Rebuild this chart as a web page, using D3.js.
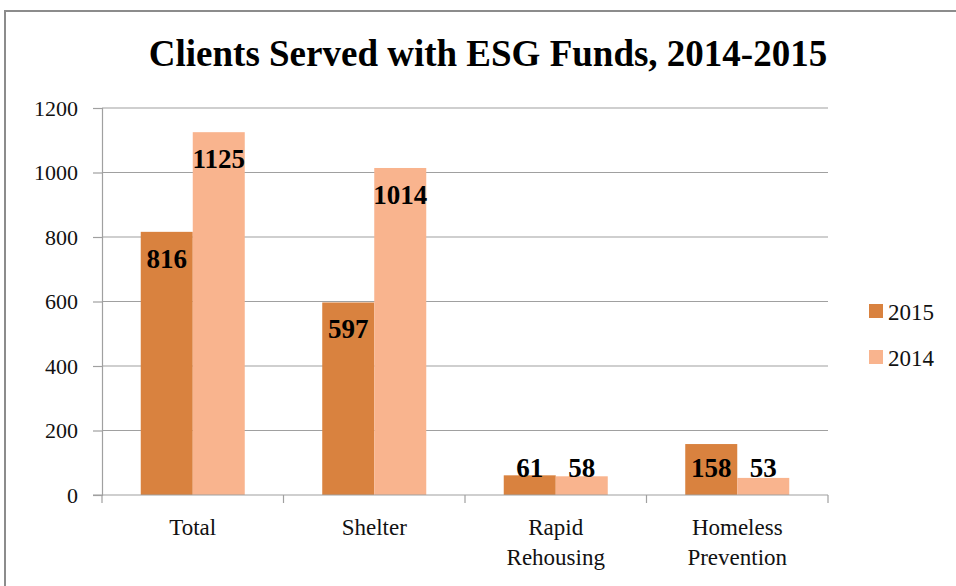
<html>
<head>
<script src="https://d3js.org/d3.v7.min.js"></script>
<style>
  body { margin: 0; background: white; }
  text { font-family: "Liberation Serif", "Times New Roman", serif; }
</style>
</head>
<body>
<svg width="956" height="586"></svg>
<script>
// data
var categories = [["Total"], ["Shelter"], ["Rapid", "Rehousing"], ["Homeless", "Prevention"]];
var series = ["2015", "2014"];
var values2015 = [816, 597, 61, 158];
var values2014 = [1125, 1014, 58, 53];
var yTicks = [0, 200, 400, 600, 800, 1000, 1200];
var colors = ["#D9823F", "#F9B48E"];

var svg = d3.select("svg");

// outer frame
svg.append("rect")
  .attr("x", 5).attr("y", 11)
  .attr("width", 1000).attr("height", 1000)
  .attr("fill", "none")
  .attr("stroke", "#8c8c8c")
  .attr("stroke-width", 2);

svg.append("text")
  .attr("x", 488).attr("y", 66)
  .attr("text-anchor", "middle")
  .attr("font-size", 37)
  .attr("font-weight", "bold")
  .text("Clients Served with ESG Funds, 2014-2015");

var plotL = 102, plotR = 828, plotT = 108, plotB = 495;

var x = d3.scaleBand().domain(d3.range(categories.length)).range([plotL, plotR]);
var x1 = d3.scaleBand().domain(series).range([0, x.bandwidth()]).paddingOuter(0.745).paddingInner(0);
var y = d3.scaleLinear().domain([0, 1200]).range([plotB, plotT]);

// gridlines
svg.append("g").selectAll("line")
  .data(yTicks.slice(1))
  .enter().append("line")
  .attr("x1", plotL).attr("x2", plotR)
  .attr("y1", function(d) { return y(d); })
  .attr("y2", function(d) { return y(d); })
  .attr("stroke", "#a0a0a0")
  .attr("stroke-width", 1.2);

// y axis
var yAxis = d3.axisLeft(y).tickValues(yTicks).tickSize(9).tickPadding(15).tickFormat(d3.format("d"));
var gy = svg.append("g").attr("transform", "translate(" + plotL + ",0)").call(yAxis)
  .attr("font-family", "Liberation Serif");
gy.select(".domain").attr("stroke", "#a0a0a0").attr("stroke-width", 1.2);
gy.selectAll(".tick line").attr("stroke", "#a0a0a0").attr("stroke-width", 1.2);
gy.selectAll(".tick text")
  .attr("font-size", 22)
  .attr("fill", "#111");

// bars
var rows = categories.map(function(c, i) {
  return [{ s: "2015", v: values2015[i], i: i }, { s: "2014", v: values2014[i], i: i }];
});

var groups = svg.append("g").selectAll("g")
  .data(rows)
  .enter().append("g")
  .attr("transform", function(d, i) { return "translate(" + x(i) + ",0)"; });

groups.selectAll("rect")
  .data(function(d) { return d; })
  .enter().append("rect")
  .attr("x", function(d) { return x1(d.s); })
  .attr("width", x1.bandwidth())
  .attr("y", function(d) { return y(d.v); })
  .attr("height", function(d) { return y(0) - y(d.v); })
  .attr("fill", function(d) { return d.s == "2015" ? colors[0] : colors[1]; });

groups.selectAll("text")
  .data(function(d) { return d; })
  .enter().append("text")
  .attr("x", function(d) { return x1(d.s) + x1.bandwidth() / 2; })
  .attr("y", function(d) { return Math.min(y(d.v) + 36, y(0) - 18); })
  .attr("text-anchor", "middle")
  .attr("font-size", 27)
  .attr("font-weight", "bold")
  .attr("fill", "#000")
  .text(function(d) { return d.v; });

// x axis
var gx = svg.append("g").attr("transform", "translate(0," + plotB + ")");
gx.append("line")
  .attr("x1", plotL - 9).attr("x2", plotR)
  .attr("stroke", "#a0a0a0").attr("stroke-width", 1.2);
gx.selectAll(".xt")
  .data(d3.range(categories.length + 1))
  .enter().append("line")
  .attr("x1", function(d) { return plotL + d * x.bandwidth(); })
  .attr("x2", function(d) { return plotL + d * x.bandwidth(); })
  .attr("y1", 0).attr("y2", 8)
  .attr("stroke", "#a0a0a0").attr("stroke-width", 1.2);

var labels = gx.selectAll(".xl")
  .data(categories)
  .enter().append("text")
  .attr("text-anchor", "middle")
  .attr("font-size", 23)
  .attr("fill", "#111");
labels.selectAll("tspan")
  .data(function(d, i) { return d.map(function(t) { return { t: t, i: i }; }); })
  .enter().append("tspan")
  .attr("x", function(d) { return x(d.i) + x.bandwidth() / 2; })
  .attr("y", function(d, j) { return 40 + j * 30; })
  .text(function(d) { return d.t; });

// legend
var legend = svg.append("g").selectAll("g")
  .data(series)
  .enter().append("g")
  .attr("transform", function(d, i) { return "translate(869," + (304 + i * 46) + ")"; });
legend.append("rect")
  .attr("width", 14).attr("height", 14)
  .attr("fill", function(d, i) { return colors[i]; });
legend.append("text")
  .attr("x", 19).attr("y", 16)
  .attr("font-size", 23)
  .attr("fill", "#111")
  .text(function(d) { return d; });
</script>
</body>
</html>
